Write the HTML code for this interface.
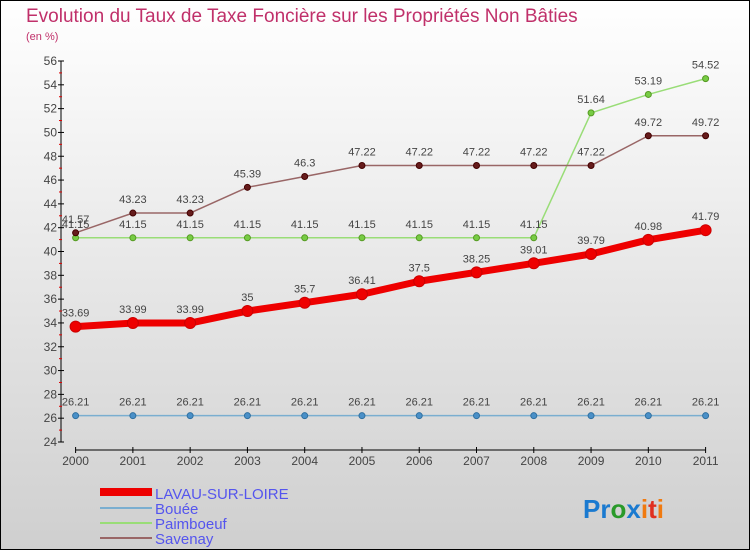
<!DOCTYPE html>
<html><head><meta charset="utf-8"><style>
body{margin:0;width:750px;height:550px;overflow:hidden}
svg text{font-family:"Liberation Sans",sans-serif}
</style></head><body>
<svg id="c" width="750" height="550" xmlns="http://www.w3.org/2000/svg">
<defs><linearGradient id="bg" x1="0" y1="0" x2="0" y2="1"><stop offset="0" stop-color="#ffffff"/><stop offset="1" stop-color="#cfcfcf"/></linearGradient></defs>
<rect x="0.5" y="0.5" width="749" height="549" fill="url(#bg)" stroke="#000"/>
<text x="26" y="22" font-size="19" fill="#c0306a">Evolution du Taux de Taxe Foncière sur les Propriétés Non Bâties</text>
<text x="26" y="40" font-size="11" fill="#c0306a">(en %)</text>
<g id="axes"></g><g id="series"></g>
<g>
<rect x="100" y="488" width="52" height="8" fill="#e00"/>
<text x="155" y="499" font-size="15" fill="#5555ee">LAVAU-SUR-LOIRE</text>
<rect x="100" y="507" width="52" height="2" fill="#7aaed0"/>
<text x="155" y="514" font-size="15" fill="#5555ee">Bouée</text>
<rect x="100" y="522" width="52" height="2" fill="#99dd77"/>
<text x="155" y="529" font-size="15" fill="#5555ee">Paimboeuf</text>
<rect x="100" y="537" width="52" height="2" fill="#996666"/>
<text x="155" y="544" font-size="15" fill="#5555ee">Savenay</text>
</g>
<text x="583" y="518" font-size="26" font-weight="bold"><tspan fill="#1a7ad0">Pr</tspan><tspan fill="#2a9a2a">o</tspan><tspan fill="#1a7ad0">x</tspan><tspan fill="#f07a10">i</tspan><tspan fill="#e03020">t</tspan><tspan fill="#f07a10">i</tspan></text>
</svg>
<script>
const years=["2000","2001","2002","2003","2004","2005","2006","2007","2008","2009","2010","2011"];
const yTicks=[24,26,28,30,32,34,36,38,40,42,44,46,48,50,52,54,56];
const lavau=[33.69,33.99,33.99,35,35.7,36.41,37.5,38.25,39.01,39.79,40.98,41.79];
const bouee=[26.21,26.21,26.21,26.21,26.21,26.21,26.21,26.21,26.21,26.21,26.21,26.21];
const paimboeuf=[41.15,41.15,41.15,41.15,41.15,41.15,41.15,41.15,41.15,51.64,53.19,54.52];
const savenay=[41.57,43.23,43.23,45.39,46.3,47.22,47.22,47.22,47.22,47.22,49.72,49.72];
const NS="http://www.w3.org/2000/svg";
const X=i=>75.6+i*(705.6-75.6)/(years.length-1);
const Y=v=>442-(v-24)*(442-61)/32;
function mk(t,a,p){const e=document.createElementNS(NS,t);for(const k in a)e.setAttribute(k,a[k]);p.appendChild(e);return e;}
const ax=document.getElementById('axes');
let l=mk('line',{x1:61,y1:Y(56),x2:61,y2:Y(24),stroke:'#000'},ax);


yTicks.forEach((v,k)=>{
 const t=mk('line',{x1:58,x2:64,y1:Y(v),y2:Y(v),stroke:'#000'},ax);
 
 
 if(k<yTicks.length-1){
  const m=mk('line',{x1:59,x2:62,y1:Y(v+1),y2:Y(v+1),stroke:'#d00'},ax);
  
  
 }
 const tx=mk('text',{x:57,y:Y(v)+4,'font-size':12,'text-anchor':'end',fill:'#444'},ax);
 tx.textContent=v;
 
 
});
l=mk('line',{x1:75.6,y1:450,x2:705.6,y2:450,stroke:'#000'},ax);


years.forEach((y,i)=>{
 const t=mk('line',{x1:X(i),x2:X(i),y1:447,y2:453,stroke:'#000'},ax);
 
 
 const tx=mk('text',{x:X(i),y:465,'font-size':12,'text-anchor':'middle',fill:'#444'},ax);
 tx.textContent=y;
 
 
});
const sg=document.getElementById('series');
function series(name,vals,color,w,r,dot,dotStroke){
 const g=mk('g',{},sg);
 
 
 const p=mk('polyline',{points:vals.map((v,i)=>X(i)+','+Y(v)).join(' '),fill:'none',stroke:color,'stroke-width':w,'stroke-linejoin':'round'},g);
 
 
 vals.forEach((v,i)=>{
  const c=mk('circle',{cx:X(i),cy:Y(v),r:r,fill:dot,stroke:dotStroke,'stroke-width':1},g);
  
  
  const t=mk('text',{x:X(i),y:Y(v)-10,'font-size':11,'text-anchor':'middle',fill:'#444'},g);
  t.textContent=v;
  
  
 });
}
series('bouee',bouee,'#7aaed0',1.5,3,'#4a90c8','#3070a0');
series('paimboeuf',paimboeuf,'#99dd77',1.5,3,'#77cc44','#559922');
series('savenay',savenay,'#996666',1.5,3,'#661c1c','#440000');
series('lavau',lavau,'#ee0000',7,5.5,'#ee0000','#cc0000');
</script>
</body></html>
